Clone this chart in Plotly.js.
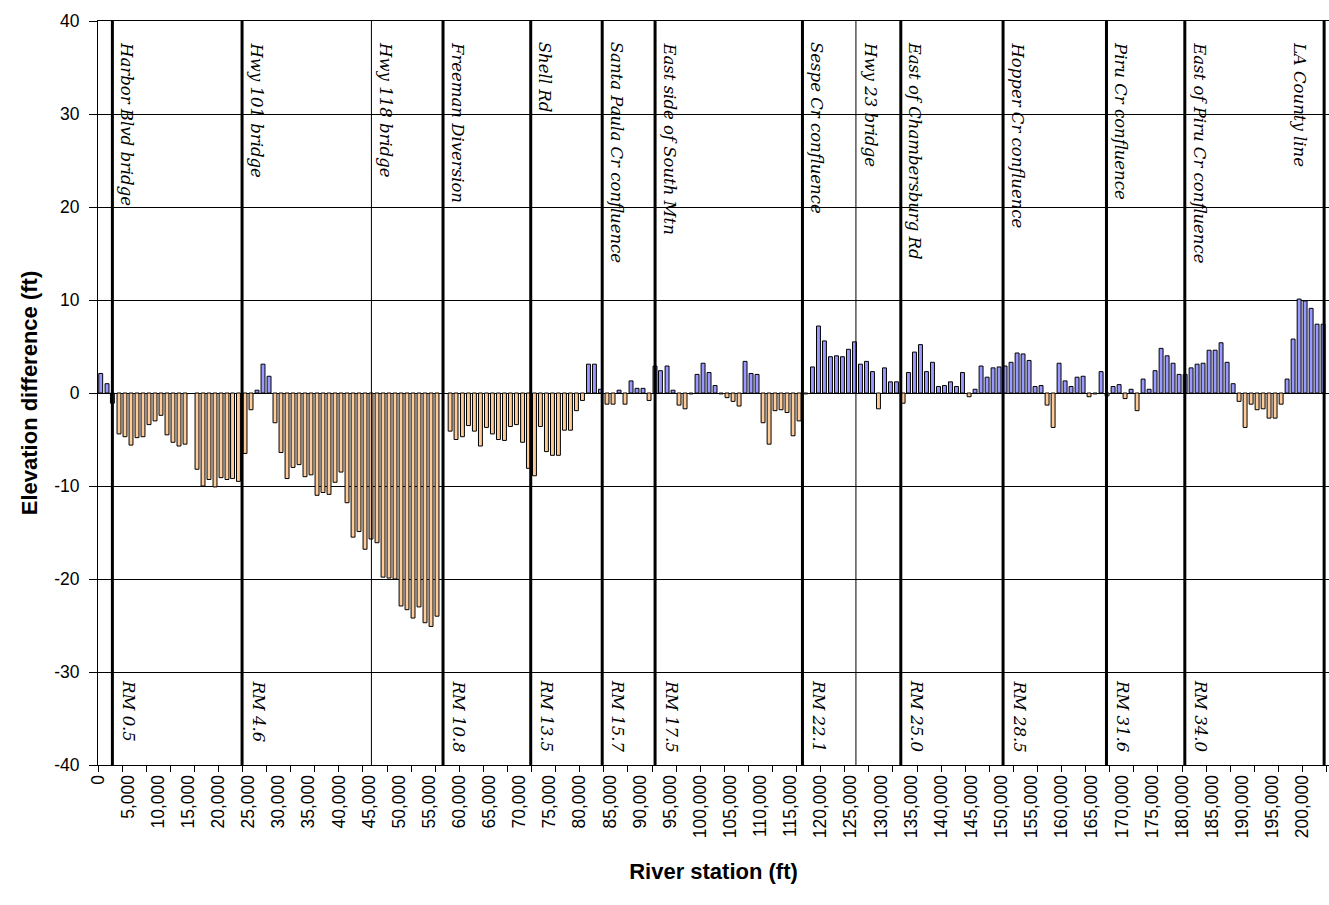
<!DOCTYPE html>
<html>
<head>
<meta charset="utf-8">
<script src="https://cdn.plot.ly/plotly-3.0.1.min.js"></script>
<style>html,body{margin:0;padding:0;background:#fff;}#chart{width:1329px;height:905px;}</style>
</head>
<body>
<div id="chart"></div>
<script>
// River station (ft) of each cross-section
const stations = [450,1500,2390,3490,4480,5480,6480,7470,8470,9470,10460,11460,12450,13450,14450,
16440,17440,18430,19430,20430,21420,22340,23320,24410,25410,26400,27400,28400,29390,30390,
31390,32380,33380,34370,35370,36370,37360,38360,39360,40350,41350,42350,43340,44340,45330,
46330,47330,48320,49320,50320,51310,52310,53300,54300,55300,56290,58470,59450,60510,61510,
62500,63500,64500,65490,66490,67490,68480,69480,70500,71470,72470,73460,74460,75460,76450,
77450,78450,79440,80440,81440,82430,83430,84520,85520,86520,87510,88510,89500,90500,91500,
92490,93390,94490,95480,96480,97480,98470,99470,100470,101460,102460,103450,104450,105450,106450,
107440,108440,109430,110430,111430,112420,113420,114410,115410,116410,117520,118630,119630,120620,
121620,122620,123610,124610,125610,126600,127600,128600,129590,130590,131580,132580,133680,134570,
135570,136570,137560,138560,139560,140550,141550,142540,143540,144640,145630,146630,147630,148620,
149620,150610,151610,152610,153600,154600,155600,156590,157590,158590,159580,160580,161570,162570,
163570,164560,165560,166560,167550,168550,169550,170540,171540,172530,173530,174530,175520,176520,
177520,178510,179510,180510,181500,182500,183490,184490,185490,186480,187480,188480,189470,190470,
191470,192460,193460,194450,195450,196450,197440,198440,199440,200430,201430,202420,203420];

// Elevation difference (ft) at each station
const elevDiff = [2.1,1.0,-1.1,-4.4,-4.7,-5.6,-4.8,-4.7,-3.4,-3.0,-2.4,-4.5,-5.3,-5.7,-5.5,
-8.2,-10.0,-9.3,-10.1,-9.1,-9.3,-9.2,-9.5,-6.5,-1.8,0.3,3.1,1.8,-3.2,-6.4,
-9.2,-8.0,-7.7,-9.0,-8.8,-11.0,-10.7,-10.9,-9.6,-8.5,-11.8,-15.5,-14.9,-16.8,-15.7,
-16.1,-19.8,-19.9,-20.0,-22.9,-23.3,-24.2,-23.0,-24.7,-25.1,-24.0,-4.1,-5.0,-4.7,-3.5,
-4.1,-5.7,-3.7,-4.4,-5.0,-5.1,-3.6,-3.4,-5.3,-8.1,-8.9,-3.6,-6.3,-6.7,-6.7,
-4.0,-4.0,-1.9,-0.8,3.1,3.1,0.4,-1.2,-1.2,0.3,-1.2,1.3,0.5,0.5,-0.8,
2.9,2.4,2.9,0.3,-1.3,-1.7,-0.1,2.0,3.2,2.2,0.8,-0.1,-0.5,-0.9,-1.4,
3.4,2.1,2.0,-3.2,-5.5,-1.9,-1.8,-2.1,-4.6,-3.0,-0.1,2.8,7.2,5.6,
3.9,4.0,3.9,4.7,5.5,3.1,3.4,2.3,-1.7,2.7,1.2,1.2,-1.1,2.2,
4.4,5.2,2.3,3.3,0.7,0.8,1.2,0.7,2.2,-0.4,0.4,2.9,1.7,2.7,
2.8,2.9,3.3,4.3,4.2,3.5,0.7,0.8,-1.3,-3.7,3.2,1.3,0.7,1.7,
1.8,-0.4,-0.1,2.3,-0.3,0.7,0.9,-0.6,0.4,-1.9,1.5,0.4,2.4,4.8,
4.0,3.2,2.0,2.0,2.7,3.1,3.2,4.6,4.6,5.4,3.3,1.0,-0.9,-3.7,
-1.2,-1.8,-1.7,-2.7,-2.7,-1.2,1.5,5.8,10.1,9.9,9.1,7.4,7.4];

// Landmarks along the river
const landmarkNames = ['Harbor Blvd bridge','Hwy 101 bridge','Hwy 118 bridge','Freeman Diversion','Shell Rd',
  'Santa Paula Cr confluence','East side of South Mtn','Sespe Cr confluence','Hwy 23 bridge',
  'East of Chambersburg Rd','Hopper Cr confluence','Piru Cr confluence','East of Piru Cr confluence','LA County line'];
const landmarkStations = [2390,23920,45400,57290,71850,83720,92500,116970,125850,133300,150280,167450,180460,203590];
const landmarkRM = ['RM 0.5','RM 4.6','','RM 10.8','RM 13.5','RM 15.7','RM 17.5','RM 22.1','','RM 25.0','RM 28.5','RM 31.6','RM 34.0',''];
const minorLandmarks = ['Hwy 118 bridge','Hwy 23 bridge'];

// Axis tick labels
const yTickVals = [-40,-30,-20,-10,0,10,20,30,40];
const yTickText = ['-40','-30','-20','-10','0','10','20','30','40'];

const NEG = '#FFCC99', POS = '#9999FF';

const barTrace = {
  type: 'bar',
  x: stations,
  y: elevDiff,
  width: 650,
  marker: {
    color: elevDiff.map(v => v < 0 ? NEG : POS),
    line: {color: '#000000', width: 1}
  },
  hoverinfo: 'x+y'
};
// invisible trace on overlay axis to carry 4000-ft tick marks
const tickTrace = {type:'scatter', x:[0], y:[0], xaxis:'x2', mode:'markers', marker:{opacity:0}, hoverinfo:'skip'};

const shapes = landmarkStations.map((s, i) => ({
  type: 'line', xref: 'x', yref: 'paper', x0: s, x1: s, y0: 0, y1: 1,
  line: {color: '#000000', width: minorLandmarks.includes(landmarkNames[i]) ? 1 : 3},
  layer: 'above'
}));

const labelFont = {family: 'DejaVu Serif, Liberation Serif, serif', size: 16.5, color: '#000', style: 'italic'};
const lastIdx = landmarkStations.length - 1;
const annotations = [];
landmarkStations.forEach((s, i) => {
  const atRightEdge = (i === lastIdx);
  annotations.push({
    xref: 'x', yref: 'paper', x: s, y: 1, text: landmarkNames[i], showarrow: false,
    textangle: 90, xanchor: atRightEdge ? 'right' : 'left', yanchor: 'top',
    xshift: atRightEdge ? -13 : 3, yshift: -19, font: labelFont
  });
  if (landmarkRM[i]) {
    annotations.push({
      xref: 'x', yref: 'paper', x: s, y: 0.117, text: landmarkRM[i], showarrow: false,
      textangle: 90, xanchor: 'left', yanchor: 'top', xshift: 4, yshift: 0, font: labelFont
    });
  }
});

const axisFont = {family: 'Arial, Liberation Sans, sans-serif', size: 17.5, color: '#000'};
const titleFont = {family: 'Arial, Liberation Sans, sans-serif', size: 22, color: '#000', weight: 'bold'};

const layout = {
  width: 1329, height: 905,
  margin: {l: 98, r: 0, t: 21, b: 140},
  paper_bgcolor: '#ffffff', plot_bgcolor: '#ffffff',
  showlegend: false,
  bargap: 0,
  xaxis: {
    range: [0, 204400], tickmode: 'linear', tick0: 0, dtick: 5000, tickformat: ',d',
    tickangle: -90, ticks: '', showgrid: false, zeroline: false,
    showline: true, linecolor: '#000', linewidth: 1, mirror: true,
    tickfont: axisFont, ticklabelstandoff: 2,
    title: {text: 'River station (ft)', font: titleFont, standoff: 26}
  },
  xaxis2: {
    overlaying: 'x', matches: 'x', anchor: 'y', side: 'bottom',
    tickmode: 'linear', tick0: 0, dtick: 4000, ticks: 'outside', ticklen: 6, tickcolor: '#000', tickwidth: 1,
    showticklabels: false, showgrid: false, zeroline: false, showline: false
  },
  yaxis: {
    range: [-40, 40], tickvals: yTickVals, ticktext: yTickText,
    ticks: 'outside', ticklen: 8, tickcolor: '#000', tickwidth: 1,
    showgrid: true, gridcolor: '#000', gridwidth: 1,
    zeroline: true, zerolinecolor: '#000', zerolinewidth: 1,
    showline: true, linecolor: '#000', linewidth: 1, mirror: true,
    tickfont: axisFont, ticklabelstandoff: 6,
    title: {text: 'Elevation difference (ft)', font: titleFont, standoff: 10}
  },
  shapes: shapes,
  annotations: annotations
};

Plotly.newPlot('chart', [barTrace, tickTrace], layout, {staticPlot: true, displayModeBar: false});
</script>
</body>
</html>
